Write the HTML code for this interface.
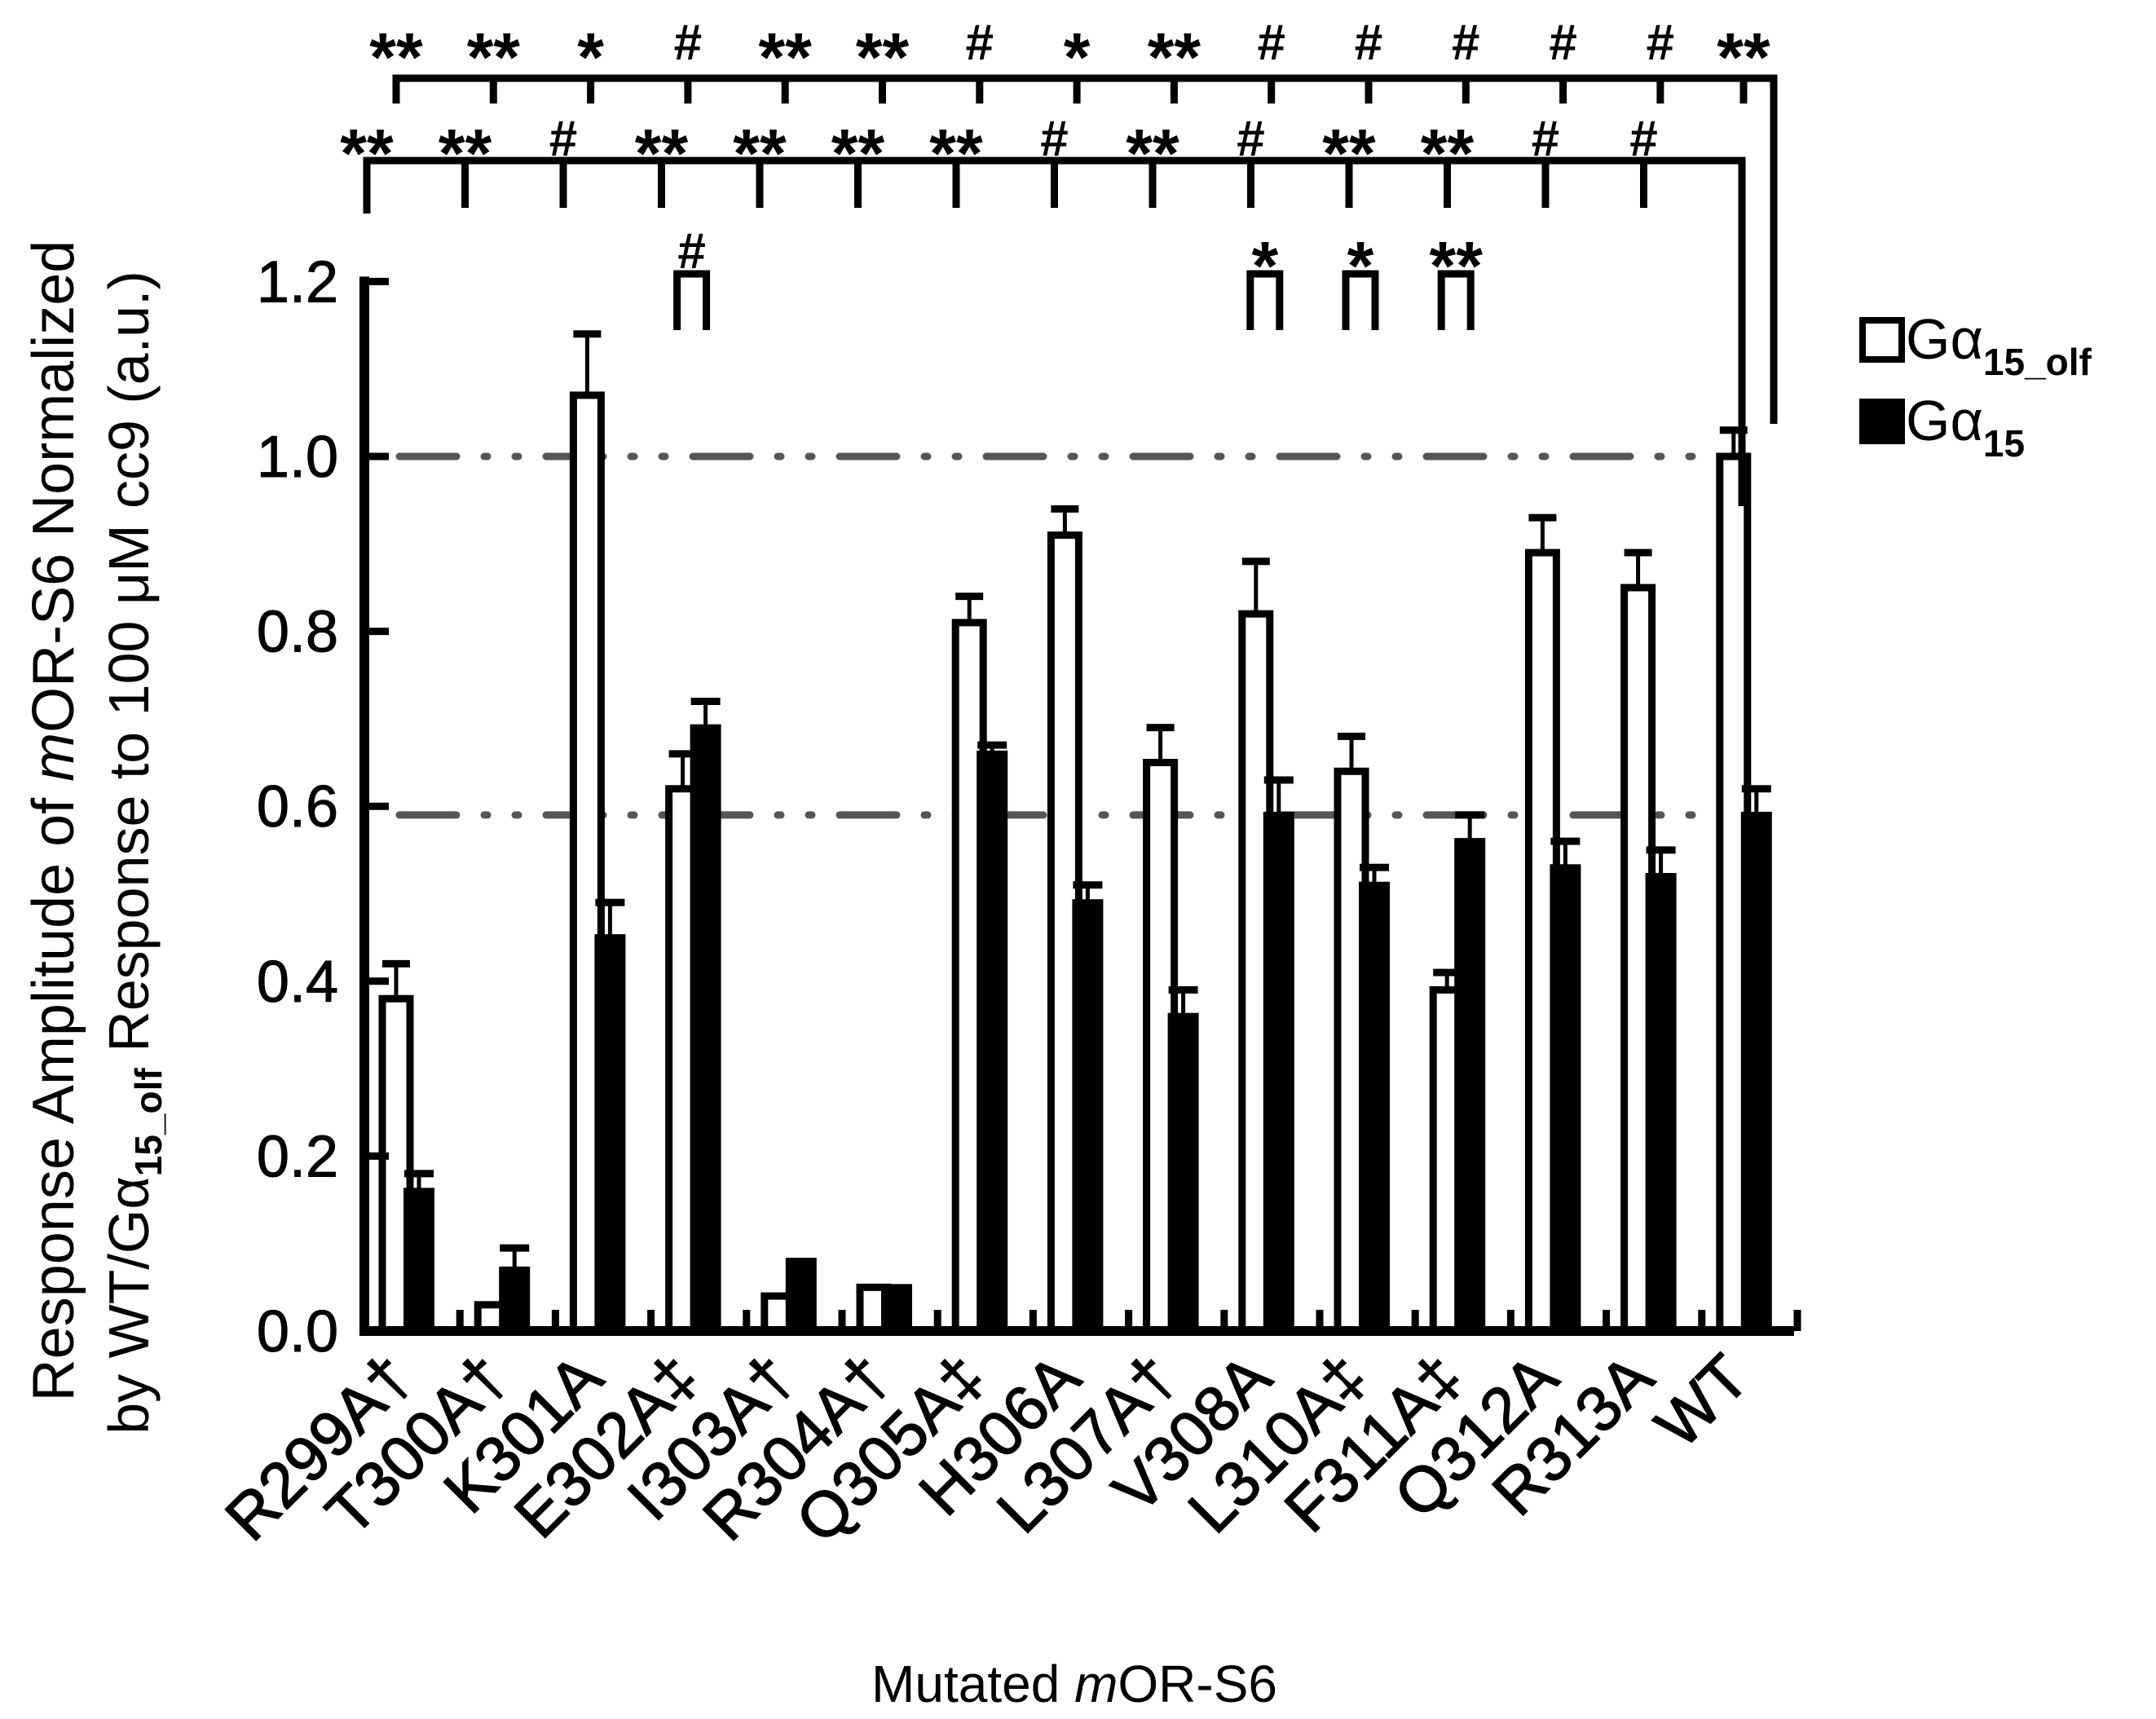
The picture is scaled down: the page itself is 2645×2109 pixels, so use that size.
<!DOCTYPE html>
<html><head><meta charset="utf-8"><style>
html,body{margin:0;padding:0;background:#fff}
svg{display:block}
text{font-family:"Liberation Sans",Arial,sans-serif;fill:#000}
</style></head><body>
<svg id="chart" width="2645" height="2109" viewBox="0 0 2645 2109" xmlns="http://www.w3.org/2000/svg"></svg>
<script>
const categories=["R299A†","T300A†","K301A","E302A‡","I303A†","R304A†","Q305A‡","H306A","L307A†","V308A","L310A‡","F311A‡","Q312A","R313A","WT"];
const olfValues=[0.38,0.03,1.07,0.62,0.04,0.05,0.81,0.91,0.65,0.82,0.64,0.39,0.89,0.85,1.0];
const olfErrTop=[0.42,0.03,1.14,0.66,0.04,0.05,0.84,0.94,0.69,0.88,0.68,0.41,0.93,0.89,1.03];
const g15Values=[0.16,0.07,0.45,0.69,0.08,0.05,0.66,0.49,0.36,0.59,0.51,0.56,0.53,0.52,0.59];
const g15ErrTop=[0.18,0.095,0.49,0.72,0.08,0.05,0.67,0.51,0.39,0.63,0.53,0.59,0.56,0.55,0.62];
const yTicks=[0,0.2,0.4,0.6,0.8,1.0,1.2];
const yTickLabels=["0.0","0.2","0.4","0.6","0.8","1.0","1.2"];
const refLines=[1.0,0.59];
const row1Labels=["**","**","*","#","**","**","#","*","**","#","#","#","#","#","**"];
const row2Labels=["**","**","#","**","**","**","**","#","**","#","**","**","#","#"];
const pairIdx=[3,9,10,11];
const pairLabels=["#","*","*","**"];

const S=document.getElementById('chart');
const NS="http://www.w3.org/2000/svg";
function el(t,a,p){const e=document.createElementNS(NS,t);for(const k in a)e.setAttribute(k,a[k]);(p||S).appendChild(e);return e;}
const X0=447,GW=117.2,Y0=1633,UNIT=1073,XEND=2201;
const y=v=>Y0-v*UNIT;
const gx=i=>X0+GW*i;

const rg=el('g',{});


refLines.forEach(v=>{
  const l=el('line',{x1:490,x2:2110,y1:y(v),y2:y(v),stroke:'#555','stroke-width':9,'stroke-dasharray':'70 34 4 34 4 34','stroke-linecap':'round'},rg);
  
  
});

categories.forEach((c,i)=>{
  const g=el('g',{});
  
  
  const ox=gx(i)+22, ow=34;
  const r1=el('rect',{x:ox,y:y(olfValues[i]),width:ow,height:Y0-y(olfValues[i]),fill:'#fff',stroke:'#000','stroke-width':9},g);
  
  
  if(olfErrTop[i]>olfValues[i]+0.005){
    const cx=ox+ow/2;
    el('line',{x1:cx,x2:cx,y1:y(olfValues[i]),y2:y(olfErrTop[i]),stroke:'#000','stroke-width':5},g);
    el('line',{x1:cx-17,x2:cx+17,y1:y(olfErrTop[i]),y2:y(olfErrTop[i]),stroke:'#000','stroke-width':9},g);
  }
  const fx=gx(i)+48, fw=38;
  const r2=el('rect',{x:fx,y:y(g15Values[i])-4,width:fw,height:Y0-y(g15Values[i])+4,fill:'#000'},g);
  
  
  if(g15ErrTop[i]>g15Values[i]+0.005){
    const cx=fx+fw/2;
    el('line',{x1:cx,x2:cx,y1:y(g15Values[i]),y2:y(g15ErrTop[i]),stroke:'#000','stroke-width':5},g);
    el('line',{x1:cx-18,x2:cx+18,y1:y(g15ErrTop[i]),y2:y(g15ErrTop[i]),stroke:'#000','stroke-width':9},g);
  }
  const t=el('text',{x:gx(i)+62,y:1695,'font-size':78,'text-anchor':'end',stroke:'#000','stroke-width':1.5,transform:`rotate(-45 ${gx(i)+62} 1695)`},g);
  t.textContent=c;
  
  
});

const ax=el('g',{});


el('line',{x1:X0,x2:X0,y1:y(1.2)-6,y2:Y0+6,stroke:'#000','stroke-width':12},ax);
el('line',{x1:X0-6,x2:XEND,y1:Y0,y2:Y0,stroke:'#000','stroke-width':12},ax);
yTicks.forEach((v,k)=>{
  el('line',{x1:X0,x2:X0+30,y1:y(v),y2:y(v),stroke:'#000','stroke-width':9},ax);
  const t=el('text',{x:415,y:y(v)+25,'font-size':72,'text-anchor':'end',stroke:'#000','stroke-width':1},ax);
  t.textContent=yTickLabels[k];
  
  
});
for(let k=1;k<=15;k++){el('line',{x1:gx(k),x2:gx(k),y1:Y0,y2:Y0-26,stroke:'#000','stroke-width':9},ax);}

const br=el('g',{});


function lab(txt,x,cy,g){
  const star=txt.indexOf('*')>=0;
  const f=star?84:62;
  const t=el('text',{x:x,y:star?cy+48:cy+22,'font-size':f,'font-weight':'bold','text-anchor':'middle'},g);
  t.textContent=txt;
  
  
}
const r1x=i=>486+119.3*i;
el('path',{d:`M${r1x(0)},127 L${r1x(0)},96 L2176,96 L2176,520`,fill:'none',stroke:'#000','stroke-width':9},br);
row1Labels.forEach((s,i)=>{
  const xx=i==14?2139:r1x(i);
  if(i>0)el('line',{x1:xx,x2:xx,y1:96,y2:127,stroke:'#000','stroke-width':9},br);
  lab(s,xx,51,br);
});
const r2x=i=>450+120.5*i;
el('path',{d:`M${r2x(0)},262 L${r2x(0)},197 L2137,197 L2137,621`,fill:'none',stroke:'#000','stroke-width':9},br);
row2Labels.forEach((s,i)=>{
  const xx=r2x(i);
  if(i>0)el('line',{x1:xx,x2:xx,y1:197,y2:255,stroke:'#000','stroke-width':9},br);
  lab(s,xx,169,br);
});
pairIdx.forEach((gi,k)=>{
  const xa=gx(gi)+32,xb=gx(gi)+68;
  el('path',{d:`M${xa},405 L${xa},336 L${xb},336 L${xb},405`,fill:'none',stroke:'#000','stroke-width':9},br);
  lab(pairLabels[k],(xa+xb)/2,307,br);
});

const lg=el('g',{});


const ls1=el('rect',{x:2285,y:393,width:48,height:48,fill:'#fff',stroke:'#000','stroke-width':8},lg);


const ls2=el('rect',{x:2281,y:489,width:56,height:56,fill:'#000'},lg);


const lt1=el('text',{x:2338,y:440,'font-size':70},lg);
lt1.innerHTML='Gα<tspan font-size="46" dy="20" font-weight="bold">15_olf</tspan>';


const lt2=el('text',{x:2338,y:540,'font-size':70},lg);
lt2.innerHTML='Gα<tspan font-size="46" dy="20" font-weight="bold">15</tspan>';



const yt=el('text',{x:0,y:0,'font-size':72,'text-anchor':'middle',transform:'translate(90,1007) rotate(-90)'});
yt.innerHTML='Response Amplitude of <tspan font-style="italic">m</tspan>OR-S6 Normalized';


const yt2=el('text',{x:0,y:0,'font-size':70,'text-anchor':'middle',transform:'translate(182,1046) rotate(-90)'});
yt2.innerHTML='by WT/Gα<tspan font-size="46" dy="16" font-weight="bold">15_olf</tspan><tspan dy="-16"> Response to 100 μM cc9 (a.u.)</tspan>';


const xt=el('text',{x:1318,y:2088,'font-size':64,'text-anchor':'middle'});
xt.innerHTML='Mutated <tspan font-style="italic">m</tspan>OR-S6';


</script>
</body></html>
